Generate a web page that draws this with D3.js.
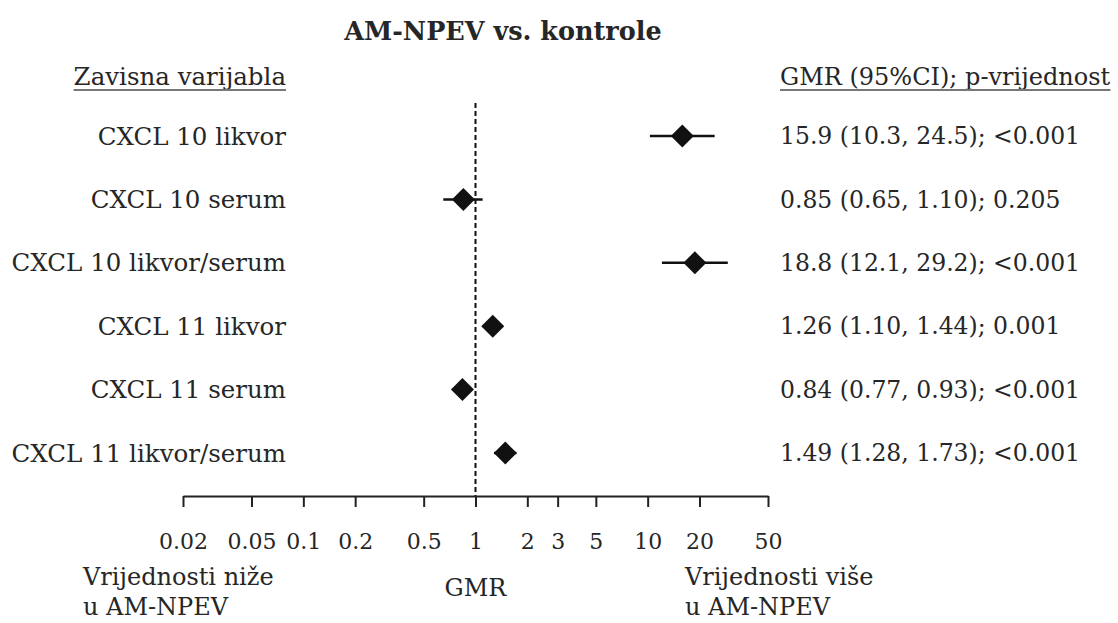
<!DOCTYPE html>
<html><head><meta charset="utf-8">
<script src="https://cdn.jsdelivr.net/npm/d3@7/dist/d3.min.js"></script>
<style>
body{margin:0;background:#fff;}
svg{display:block;}
text{font-family:"DejaVu Serif","Liberation Serif",serif;fill:#262626;}
</style></head>
<body>
<svg id="c" width="1118" height="623"></svg>
<script>
const categories = ["CXCL 10 likvor","CXCL 10 serum","CXCL 10 likvor/serum","CXCL 11 likvor","CXCL 11 serum","CXCL 11 likvor/serum"];
const gmr   = [15.9, 0.85, 18.8, 1.26, 0.84, 1.49];
const lower = [10.3, 0.65, 12.1, 1.10, 0.77, 1.28];
const upper = [24.5, 1.10, 29.2, 1.44, 0.93, 1.73];
const pvals = ["<0.001","0.205","<0.001","0.001","<0.001","<0.001"];
const ciLabels = ["15.9 (10.3, 24.5)","0.85 (0.65, 1.10)","18.8 (12.1, 29.2)","1.26 (1.10, 1.44)","0.84 (0.77, 0.93)","1.49 (1.28, 1.73)"];
const tickValues = [0.02,0.05,0.1,0.2,0.5,1,2,3,5,10,20,50];
const tickLabels = ["0.02","0.05","0.1","0.2","0.5","1","2","3","5","10","20","50"];

const svg = d3.select("#c");
const x = d3.scaleLog().domain([0.02,50]).range([183,768]);
const y = d3.scalePoint().domain(categories).range([136,453]);
const axisY = 496;

// title
svg.append("text").attr("x",503).attr("y",40).attr("text-anchor","middle")
  .style("font-weight","bold").style("font-size","25.5px").text("AM-NPEV vs. kontrole");

// headers
function underlined(t){
  const bb = t.node().getBBox();
  svg.append("rect").attr("x",bb.x).attr("y",bb.y+bb.height-2).attr("width",bb.width).attr("height",2).attr("fill","#777");
}
const h1 = svg.append("text").attr("x",286).attr("y",85).attr("text-anchor","end")
  .style("font-size","24.5px").text("Zavisna varijabla");
underlined(h1);
const h2 = svg.append("text").attr("x",780).attr("y",85).attr("text-anchor","start")
  .style("font-size","24px").text("GMR (95%CI); p-vrijednost");
underlined(h2);

// reference line
svg.append("line").attr("x1",x(1)).attr("x2",x(1)).attr("y1",103).attr("y2",axisY)
  .attr("stroke","#111").attr("stroke-width",2).attr("stroke-dasharray","5,3");

// axis
const ax = svg.append("g").attr("transform",`translate(0,${axisY})`)
  .call(d3.axisBottom(x).tickValues(tickValues).tickFormat((d,i)=>tickLabels[i]).tickSize(11).tickSizeOuter(0).tickPadding(26));
ax.select(".domain").attr("stroke","#222").attr("stroke-width",2.2);
ax.selectAll(".tick line").attr("stroke","#222").attr("stroke-width",2);
ax.selectAll(".tick text").style("font-size","22px").attr("fill","#262626")
  .style("font-family",'"DejaVu Serif","Liberation Serif",serif');

// row labels
svg.selectAll("text.lab").data(categories).join("text").attr("class","lab")
  .attr("x",286).attr("y",d=>y(d)).attr("dy","0.35em").attr("text-anchor","end")
  .style("font-size","24.5px").text(d=>d);

// right labels
svg.selectAll("text.ci").data(categories).join("text").attr("class","ci")
  .attr("x",780).attr("y",d=>y(d)).attr("dy","0.35em").attr("text-anchor","start")
  .style("font-size","23.5px").text((d,i)=>ciLabels[i]+"; "+pvals[i]);

// CI lines
svg.selectAll("line.ci").data(categories).join("line").attr("class","ci")
  .attr("x1",(d,i)=>x(lower[i])).attr("x2",(d,i)=>x(upper[i]))
  .attr("y1",d=>y(d)).attr("y2",d=>y(d)).attr("stroke","#111").attr("stroke-width",2.5);

// diamonds
const hw = 11.5;
svg.selectAll("path.pt").data(categories).join("path").attr("class","pt")
  .attr("d",(d,i)=>{const cx=x(gmr[i]), cy=y(d); return `M${cx},${cy-hw}L${cx+hw},${cy}L${cx},${cy+hw}L${cx-hw},${cy}Z`;})
  .attr("fill","#111");

// bottom labels
svg.append("text").attr("x",83).attr("y",585).style("font-size","24px").text("Vrijednosti niže");
svg.append("text").attr("x",83).attr("y",615).style("font-size","24px").text("u AM-NPEV");
svg.append("text").attr("x",x(1)).attr("y",596).attr("text-anchor","middle").style("font-size","24px").text("GMR");
svg.append("text").attr("x",685).attr("y",585).style("font-size","24px").text("Vrijednosti više");
svg.append("text").attr("x",685).attr("y",615).style("font-size","24px").text("u AM-NPEV");
</script>
</body></html>
